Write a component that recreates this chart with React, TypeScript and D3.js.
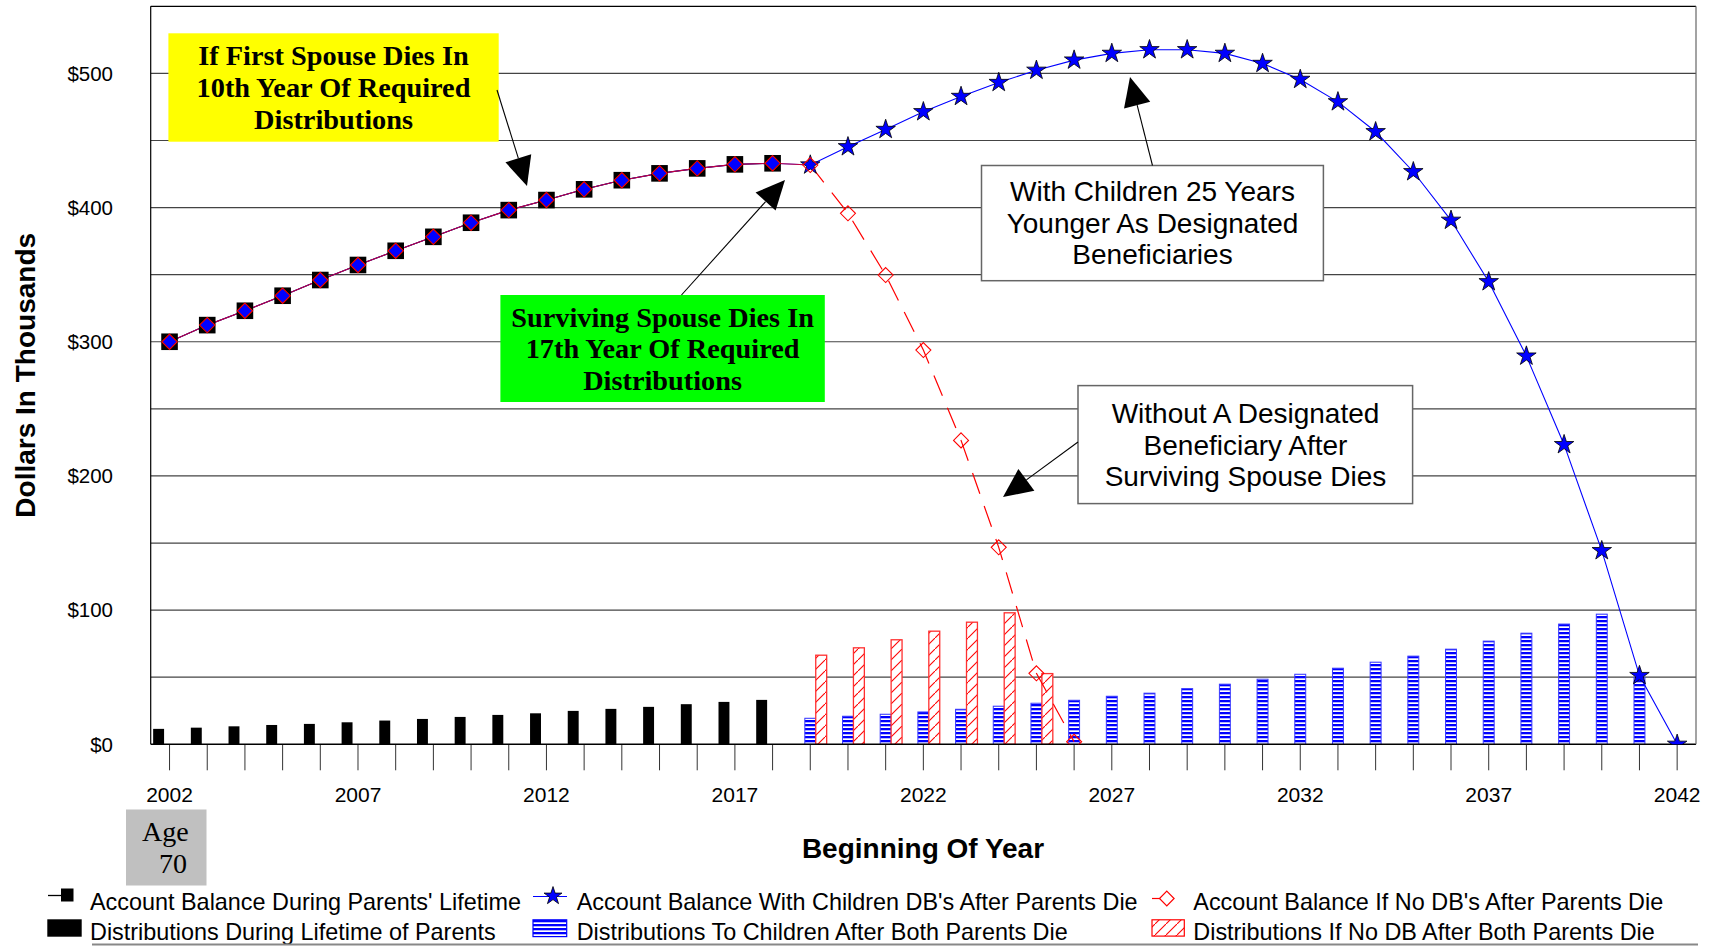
import React from 'react';
import * as d3 from 'd3';

// ---------- DATA ----------
const years = [2002, 2003, 2004, 2005, 2006, 2007, 2008, 2009, 2010, 2011, 2012, 2013, 2014, 2015, 2016, 2017, 2018, 2019, 2020, 2021, 2022, 2023, 2024, 2025, 2026, 2027, 2028, 2029, 2030, 2031, 2032, 2033, 2034, 2035, 2036, 2037, 2038, 2039, 2040, 2041, 2042];
const tickLabels = [2002, 2007, 2012, 2017, 2022, 2027, 2032, 2037, 2042];
const yTicks = [0, 100, 200, 300, 400, 500];
const yGrid = [50, 100, 150, 200, 250, 300, 350, 400, 450, 500];

// Account balance during parents' lifetime (2002-2018)
const balanceParentsStart = 2002;
const balanceParents = [300, 312.4, 323.1, 334.3, 346, 357.2, 367.8, 378.2, 388.7, 398.1, 405.6, 413.6, 420.4, 425.5, 429.2, 432.2, 433];
// Account balance with children DBs (2019-2042)
const balanceChildrenStart = 2019;
const balanceChildren = [431.7, 445.3, 458.2, 471.4, 482.8, 493.2, 502.3, 509.9, 514.9, 517.6, 517.6, 514.9, 507.4, 495.5, 478.8, 456.5, 426.7, 390.5, 344.7, 289.3, 223.3, 144.3, 51.2, 0];
// Account balance if no DB (2019-2026)
const balanceNoDBStart = 2019;
const balanceNoDB = [431.7, 395.7, 349.7, 293.8, 226.5, 146.8, 52.9, 1.9];
// Distributions during lifetime of parents (2002-2018)
const distParentsStart = 2002;
const distParents = [11.5, 12.4, 13.4, 14.4, 15.2, 16.4, 17.7, 18.9, 20.4, 21.9, 23.1, 24.9, 26.4, 27.9, 29.9, 31.6, 33.1];
// Distributions to children (2019-2041)
const distChildrenStart = 2019;
const distChildren = [19.4, 20.9, 22.4, 24.1, 26.1, 28.4, 30.6, 32.8, 35.8, 38.1, 41.5, 44.8, 48.5, 52.2, 56.7, 61.2, 65.7, 70.9, 76.9, 82.8, 89.6, 97, 50];
// Distributions if no DB (2019-2025)
const distNoDBStart = 2019;
const distNoDB = [66.4, 71.9, 77.9, 84.3, 91, 98, 52.7];

const legendRow1 = ["Account Balance During Parents' Lifetime", "Account Balance With Children DB's After Parents Die", "Account Balance If No DB's After Parents Die"];
const legendRow2 = ["Distributions During Lifetime of Parents", "Distributions To Children After Both Parents Die", "Distributions If No DB After Both Parents Die"];

// ---------- LAYOUT ----------
const W = 1713, H = 946;
const plot = { left: 150.7, right: 1696, top: 6.3, bottom: 744.3 };
const SANS = "'Liberation Sans', Arial, sans-serif";
const SERIF = "'Liberation Serif', 'Times New Roman', serif";

const toPts = (start: number, vals: number[]) => vals.map((v, i) => ({ year: start + i, value: v }));

function Arrow({ x1, y1, x2, y2, len = 29, half = 13.5 }: { x1: number; y1: number; x2: number; y2: number; len?: number; half?: number }) {
  const dx = x2 - x1, dy = y2 - y1;
  const L = Math.hypot(dx, dy);
  const ux = dx / L, uy = dy / L;
  const bx = x2 - ux * len, by = y2 - uy * len;
  const px = -uy, py = ux;
  const pts = `${x2},${y2} ${bx + px * half},${by + py * half} ${bx - px * half},${by - py * half}`;
  return (
    <g>
      <line x1={x1} y1={y1} x2={bx} y2={by} stroke="#000" strokeWidth={1.1} />
      <polygon points={pts} fill="#000" />
    </g>
  );
}

export default function App() {
  const x = d3.scaleBand<number>().domain(years).range([plot.left, plot.right]).padding(0);
  const cx = (yr: number) => (x(yr) as number) + x.bandwidth() / 2;
  const y = d3.scaleLinear().domain([0, 550]).range([plot.bottom, plot.top]);
  const barW = x.bandwidth() * 0.29;

  const parentsPts = toPts(balanceParentsStart, balanceParents);
  const childPts = toPts(balanceChildrenStart, balanceChildren);
  const noDBPts = toPts(balanceNoDBStart, balanceNoDB);
  const blueLinePts = [...parentsPts, ...childPts];
  const redSolidPts = [...parentsPts, noDBPts[0]];

  const line = d3.line<{ year: number; value: number }>().x(d => cx(d.year)).y(d => y(d.value));
  const star = d3.symbol().type(d3.symbolStar).size(118)() as string;
  const starLegend = d3.symbol().type(d3.symbolStar).size(100)() as string;
  const diamond = (r: number) => `M0,${-r}L${r},0L0,${r}L${-r},0Z`;

  const dP = toPts(distParentsStart, distParents);
  const dC = toPts(distChildrenStart, distChildren);
  const dN = toPts(distNoDBStart, distNoDB);

  return (
    <svg width={W} height={H} style={{ position: 'absolute', left: 0, top: 0, display: 'block', background: '#fff' }}>
      <defs>
        <clipPath id="plotClip">
          <rect x={plot.left} y={plot.top} width={plot.right - plot.left} height={plot.bottom - plot.top} />
        </clipPath>
        <pattern id="redHatch" patternUnits="userSpaceOnUse" width={11} height={11}>
          <rect width={11} height={11} fill="#fff" />
          <path d="M-1,12L12,-1" stroke="#ff0000" strokeWidth={1.1} />
        </pattern>
        <pattern id="blueStripe" patternUnits="userSpaceOnUse" width={10} height={4}>
          <rect width={10} height={4} fill="#0000ff" />
          <rect y={2.3} width={10} height={1.7} fill="#fff" />
        </pattern>
      </defs>
      <rect x={0} y={0} width={W} height={H} fill="#fff" />

      {/* gridlines */}
      {yGrid.map(v => (
        <line key={v} x1={plot.left} x2={plot.right} y1={y(v)} y2={y(v)} stroke="#444" strokeWidth={1.2} />
      ))}

      {/* bars */}
      {dP.map(d => (
        <rect key={'bp' + d.year} x={cx(d.year) - barW * 1.5} y={y(d.value)} width={barW} height={y(0) - y(d.value)} fill="#000" />
      ))}
      {dC.map(d => (
        <rect key={'bc' + d.year} x={cx(d.year) - barW / 2} y={y(d.value)} width={barW} height={y(0) - y(d.value)} fill="url(#blueStripe)" stroke="#3a3aff" strokeWidth={1} />
      ))}
      {dN.map(d => (
        <rect key={'bn' + d.year} x={cx(d.year) + barW / 2} y={y(d.value)} width={barW} height={y(0) - y(d.value)} fill="url(#redHatch)" stroke="#ff3030" strokeWidth={1.3} />
      ))}

      {/* x axis ticks */}
      {years.map(yr => (
        <line key={'t' + yr} x1={cx(yr)} x2={cx(yr)} y1={plot.bottom} y2={plot.bottom + 26} stroke="#333" strokeWidth={1} />
      ))}
      <line x1={plot.left} x2={plot.right} y1={plot.bottom} y2={plot.bottom} stroke="#000" strokeWidth={1.6} />

      {/* lines and markers */}
      <g clipPath="url(#plotClip)">
        <path d={line(parentsPts) as string} fill="none" stroke="#000" strokeWidth={1} />
        <path d={line(blueLinePts) as string} fill="none" stroke="#0000ff" strokeWidth={1.1} />
        <path d={line(redSolidPts) as string} fill="none" stroke="#ff0000" strokeWidth={1.1} opacity={0.75} />
        <path d={line(noDBPts) as string} fill="none" stroke="#ff0000" strokeWidth={1.2} strokeDasharray="22 13" />

        {parentsPts.map(d => (
          <g key={'m' + d.year} transform={`translate(${cx(d.year)},${y(d.value)})`}>
            <rect x={-8.3} y={-8.3} width={16.6} height={16.6} fill="#000" />
            <path d={diamond(7.2)} fill="#0000ff" />
            <path d={diamond(7.7)} fill="none" stroke="#ff0000" strokeWidth={1.1} />
          </g>
        ))}
        {childPts.map(d => (
          <path key={'s' + d.year} d={star} transform={`translate(${cx(d.year)},${y(d.value)})`} fill="#0000ff" stroke="#000" strokeWidth={0.8} />
        ))}
        {noDBPts.map(d => (
          <path key={'dn' + d.year} d={diamond(7.5)} transform={`translate(${cx(d.year)},${y(d.value)})`} fill="none" stroke="#ff0000" strokeWidth={1.1} />
        ))}
      </g>

      {/* plot border */}
      <line x1={plot.left} x2={plot.right} y1={plot.top} y2={plot.top} stroke="#000" strokeWidth={1.2} />
      <line x1={plot.left} x2={plot.left} y1={plot.top} y2={plot.bottom} stroke="#000" strokeWidth={1.2} />
      <line x1={plot.right} x2={plot.right} y1={plot.top} y2={plot.bottom} stroke="#666" strokeWidth={1.2} />

      {/* y labels */}
      {yTicks.map(v => (
        <text key={'yl' + v} x={113} y={y(v) + 7.3} textAnchor="end" fontFamily={SANS} fontSize={20.5} fill="#000">${v}</text>
      ))}
      {/* x labels */}
      {tickLabels.map(yr => (
        <text key={'xl' + yr} x={cx(yr)} y={802} textAnchor="middle" fontFamily={SANS} fontSize={21} fill="#000">{yr}</text>
      ))}

      {/* axis titles */}
      <text x={923} y={858} textAnchor="middle" fontFamily={SANS} fontSize={28} fontWeight="bold" fill="#000">Beginning Of Year</text>
      <text transform={`translate(35,${(plot.top + plot.bottom) / 2}) rotate(-90)`} textAnchor="middle" fontFamily={SANS} fontSize={28} fontWeight="bold" fill="#000">Dollars In Thousands</text>

      {/* annotation: yellow */}
      <rect x={168.4} y={33.3} width={330.3} height={108.4} fill="#ffff00" />
      <g fontFamily={SERIF} fontWeight="bold" fontSize={28.3} textAnchor="middle" fill="#000">
        <text x={333.5} y={65}>If First Spouse Dies In</text>
        <text x={333.5} y={97}>10th Year Of Required</text>
        <text x={333.5} y={129}>Distributions</text>
      </g>
      <Arrow x1={497} y1={90} x2={527} y2={186} />

      {/* annotation: green */}
      <rect x={500.4} y={295} width={324.4} height={107} fill="#00ff00" />
      <g fontFamily={SERIF} fontWeight="bold" fontSize={28.3} textAnchor="middle" fill="#000">
        <text x={662.6} y={326.5}>Surviving Spouse Dies In</text>
        <text x={662.6} y={358}>17th Year Of Required</text>
        <text x={662.6} y={389.5}>Distributions</text>
      </g>
      <Arrow x1={681.5} y1={295} x2={785} y2={180} />

      {/* annotation: white 1 */}
      <rect x={981.5} y={165.5} width={341.9} height={115.2} fill="#fff" stroke="#666" strokeWidth={1.5} />
      <g fontFamily={SANS} fontSize={28} textAnchor="middle" fill="#000">
        <text x={1152.5} y={201}>With Children 25 Years</text>
        <text x={1152.5} y={232.7}>Younger As Designated</text>
        <text x={1152.5} y={264.3}>Beneficiaries</text>
      </g>
      <Arrow x1={1152.5} y1={165.5} x2={1130} y2={77} />

      {/* annotation: white 2 */}
      <rect x={1078} y={385.6} width={334.6} height={118} fill="#fff" stroke="#666" strokeWidth={1.5} />
      <g fontFamily={SANS} fontSize={28} textAnchor="middle" fill="#000">
        <text x={1245.5} y={423}>Without A Designated</text>
        <text x={1245.5} y={454.6}>Beneficiary After</text>
        <text x={1245.5} y={486.3}>Surviving Spouse Dies</text>
      </g>
      <Arrow x1={1078} y1={442} x2={1003} y2={497} />

      {/* age box */}
      <rect x={126} y={809.5} width={80.5} height={76} fill="#c0c0c0" />
      <text x={142} y={840.5} fontFamily={SERIF} fontSize={28} fill="#000">Age</text>
      <text x={159} y={872.7} fontFamily={SERIF} fontSize={28} fill="#000">70</text>

      {/* legend */}
      <g>
        <line x1={48} x2={65} y1={895.5} y2={895.5} stroke="#000" strokeWidth={1.3} />
        <rect x={61} y={888.5} width={12.5} height={13} fill="#000" />
        <rect x={47.3} y={919.3} width={34.4} height={17.4} fill="#000" />

        <line x1={533} x2={567} y1={896.5} y2={896.5} stroke="#0000ff" strokeWidth={1.2} />
        <path d={starLegend} transform="translate(553,896)" fill="#0000ff" stroke="#000" strokeWidth={0.8} />
        <rect x={533} y={919.8} width={33.7} height={16.8} fill="url(#blueStripe)" stroke="#0000ff" strokeWidth={1.2} />

        <line x1={1152} x2={1160} y1={898.5} y2={898.5} stroke="#ff0000" strokeWidth={1.2} />
        <path d={diamond(7.3)} transform="translate(1166.8,898.5)" fill="#fff" stroke="#ff0000" strokeWidth={1.2} />
        <rect x={1152} y={919.8} width={32.3} height={16.3} fill="url(#redHatch)" stroke="#ff0000" strokeWidth={1.2} />

        <g fontFamily={SANS} fontSize={23.4} fill="#000">
          <text x={90} y={909.5}>{legendRow1[0]}</text>
          <text x={576.7} y={909.5}>{legendRow1[1]}</text>
          <text x={1193.3} y={909.5}>{legendRow1[2]}</text>
          <text x={90} y={939.5}>{legendRow2[0]}</text>
          <text x={576.7} y={939.5}>{legendRow2[1]}</text>
          <text x={1193.3} y={939.5}>{legendRow2[2]}</text>
        </g>
        <line x1={92} x2={1698} y1={944.5} y2={944.5} stroke="#888" strokeWidth={2} />
      </g>
    </svg>
  );
}
